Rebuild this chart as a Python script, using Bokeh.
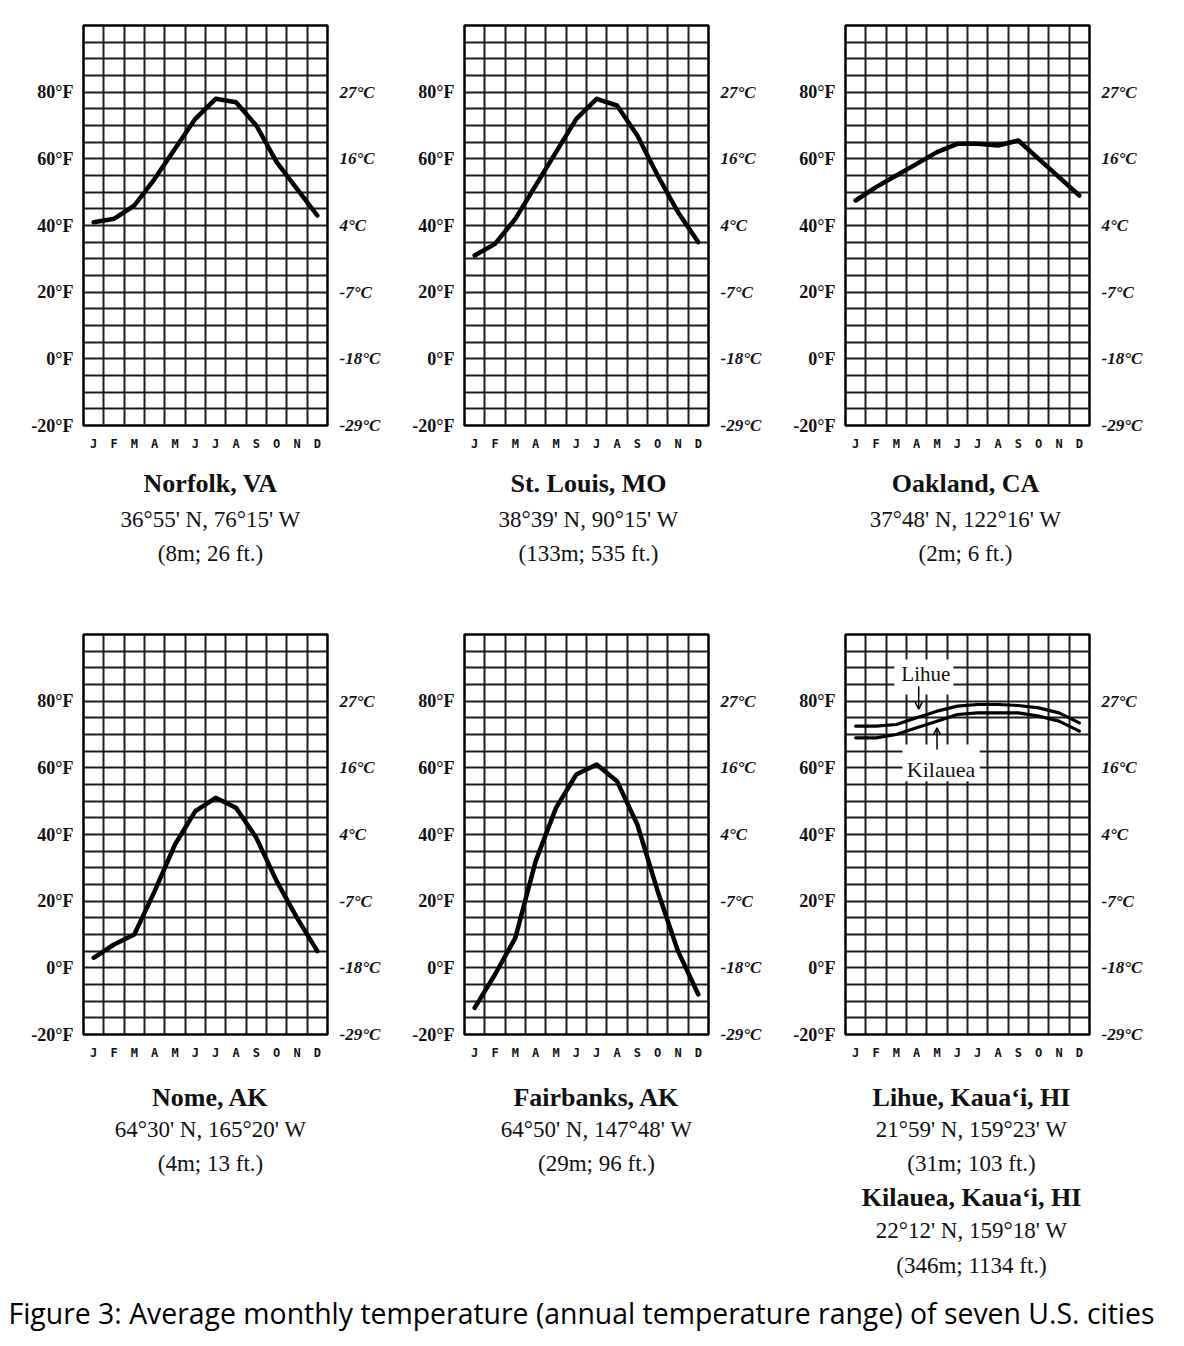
from bokeh.plotting import figure
from bokeh.models import LinearAxis, FixedTicker, Label, Arrow, OpenHead, Range1d
from bokeh.layouts import column, row
from bokeh.embed import file_html
from bokeh.resources import INLINE

# ---------------- data ----------------
months = ["J", "F", "M", "A", "M", "J", "J", "A", "S", "O", "N", "D"]
month_x = list(range(1, 13))
f_ticks = [-20, 0, 20, 40, 60, 80]
f_labels = ["-20°F", "0°F", "20°F", "40°F", "60°F", "80°F"]
c_labels = ["-29°C", "-18°C", "-7°C", "4°C", "16°C", "27°C"]

norfolk = [41, 42, 46, 54, 63, 72, 78, 77, 70, 59, 51, 43]
st_louis = [31, 34.5, 42, 52, 62, 72, 78, 76, 67, 55, 44, 35]
oakland = [47.5, 51.5, 55, 58.5, 62, 64.5, 64.5, 64, 65.5, 60, 54.5, 49]
nome = [3, 7, 10, 23, 37, 47, 51, 48, 39, 26, 15, 5]
fairbanks = [-12, -2, 9, 32, 48, 58, 61, 56, 43, 23, 5, -8]
lihue = [72.5, 72.5, 73, 75, 77, 78.5, 79, 79, 78.7, 78, 76.5, 73.5]
kilauea = [69, 69, 70, 72, 74, 76, 76.5, 76.5, 76.5, 75.5, 74, 71]

cap_norfolk = ["Norfolk, VA", "36°55' N, 76°15' W", "(8m; 26 ft.)"]
cap_stlouis = ["St. Louis, MO", "38°39' N, 90°15' W", "(133m; 535 ft.)"]
cap_oakland = ["Oakland, CA", "37°48' N, 122°16' W", "(2m; 6 ft.)"]
cap_nome = ["Nome, AK", "64°30' N, 165°20' W", "(4m; 13 ft.)"]
cap_fairbanks = ["Fairbanks, AK", "64°50' N, 147°48' W", "(29m; 96 ft.)"]
cap_lihue = ["Lihue, Kaua‘i, HI", "21°59' N, 159°23' W", "(31m; 103 ft.)",
             "Kilauea, Kaua‘i, HI", "22°12' N, 159°18' W", "(346m; 1134 ft.)"]
fig_caption = "Figure 3: Average monthly temperature (annual temperature range) of seven U.S. cities"

SERIF = "Liberation Serif"
FRAME_W = 244
FRAME_H = 400
RIGHT_B = 62
AXIS_B = 30


def make_panel(left, top):
    p = figure(width=left + FRAME_W + RIGHT_B, height=top + FRAME_H + AXIS_B,
               x_range=Range1d(0.5, 12.5), y_range=Range1d(-20, 100),
               output_backend="svg", toolbar_location=None,
               min_border_left=left, min_border_right=RIGHT_B,
               min_border_top=top, min_border_bottom=AXIS_B,
               background_fill_color="white", border_fill_color="white")
    p.outline_line_color = "black"
    p.outline_line_width = 2.5
    p.outline_line_alpha = 1
    p.xgrid.ticker = FixedTicker(ticks=[i + 0.5 for i in range(len(months) + 1)])
    p.ygrid.ticker = FixedTicker(ticks=list(range(-20, 101, 5)))
    for g in (p.xgrid, p.ygrid):
        g.grid_line_color = "#1e1e1e"
        g.grid_line_width = 2
        g.grid_line_alpha = 1

    p.xaxis.ticker = FixedTicker(ticks=month_x)
    p.xaxis.major_label_overrides = dict(zip(month_x, months))
    p.xaxis.major_label_text_font = "DejaVu Sans Mono"
    p.xaxis.major_label_text_font_style = "bold"
    p.xaxis.major_label_text_font_size = "12px"
    p.xaxis.major_label_standoff = 5

    p.yaxis.ticker = FixedTicker(ticks=f_ticks)
    p.yaxis.major_label_overrides = dict(zip(f_ticks, f_labels))
    p.yaxis.major_label_text_font = SERIF
    p.yaxis.major_label_text_font_style = "bold"
    p.yaxis.major_label_text_font_size = "18px"
    p.yaxis.major_label_standoff = 4

    ra = LinearAxis(ticker=FixedTicker(ticks=f_ticks),
                    major_label_overrides=dict(zip(f_ticks, c_labels)))
    ra.major_label_text_font = SERIF
    ra.major_label_text_font_style = "bold italic"
    ra.major_label_text_font_size = "17px"
    ra.major_label_standoff = 6
    p.add_layout(ra, "right")

    for ax in (p.xaxis[0], p.yaxis[0], ra):
        ax.axis_line_color = None
        ax.major_tick_line_color = None
        ax.minor_tick_line_color = None
        ax.major_label_text_color = "#111111"
    return p


def make_caption(width, height, cx, lines, offsets):
    c = figure(width=width, height=height, x_range=Range1d(0, 1), y_range=Range1d(0, 1),
               output_backend="svg", toolbar_location=None,
               x_axis_location=None, y_axis_location=None,
               min_border=0, outline_line_color=None,
               background_fill_color="white", border_fill_color="white")
    c.xgrid.visible = False
    c.ygrid.visible = False
    for i, txt in enumerate(lines):
        bold = (i % 3 == 0)
        c.add_layout(Label(x=cx, y=height - offsets[i], x_units="screen", y_units="screen",
                           text=txt, text_align="center", text_baseline="middle",
                           text_font=SERIF, text_font_size="26px" if bold else "23px",
                           text_font_style="bold" if bold else "normal", text_color="#111111"))
    return c


def add_curve(p, ys, lw=4.5):
    p.line(month_x, ys, line_width=lw, color="black", line_join="round", line_cap="round")


p1 = make_panel(83, 25)
add_curve(p1, norfolk)
p2 = make_panel(75, 25)
add_curve(p2, st_louis)
p3 = make_panel(75, 25)
add_curve(p3, oakland)

p4 = make_panel(83, 16)
add_curve(p4, nome)
p5 = make_panel(75, 16)
add_curve(p5, fairbanks)
p6 = make_panel(75, 16)

# white label boxes (annotation backgrounds) in the Hawaii panel
lihue_box = dict(left=2.9, right=5.8, bottom=82, top=92.5)
kilauea_box = dict(left=3.3, right=7.1, bottom=56, top=67)
p6.quad(left=[lihue_box["left"], kilauea_box["left"]], right=[lihue_box["right"], kilauea_box["right"]],
        bottom=[lihue_box["bottom"], kilauea_box["bottom"]], top=[lihue_box["top"], kilauea_box["top"]],
        fill_color="white", line_color=None)
add_curve(p6, lihue, 3.2)
add_curve(p6, kilauea, 3.2)
p6.add_layout(Label(x=4.45, y=88.2, text="Lihue", text_align="center", text_baseline="middle",
                    text_font=SERIF, text_font_size="21px", text_color="#111111"))
p6.add_layout(Label(x=5.2, y=59.5, text="Kilauea", text_align="center", text_baseline="middle",
                    text_font=SERIF, text_font_size="22px", text_color="#111111"))
p6.add_layout(Arrow(end=OpenHead(size=7, line_width=1.5), x_start=4.1, y_start=84.5, x_end=4.1, y_end=77.6,
                    line_width=1.5, line_color="black"))
p6.add_layout(Arrow(end=OpenHead(size=7, line_width=1.5), x_start=5.0, y_start=65.5, x_end=5.0, y_end=72.0,
                    line_width=1.5, line_color="black"))

top_off = [28, 64, 98]
bot_off = [33, 65, 99, 133, 166, 201]
c1 = make_caption(p1.width, 163, 210, cap_norfolk, top_off)
c2 = make_caption(p2.width, 163, 199, cap_stlouis, top_off)
c3 = make_caption(p3.width, 163, 195, cap_oakland, top_off)
c4 = make_caption(p4.width, 226, 210, cap_nome, bot_off)
c5 = make_caption(p5.width, 226, 207, cap_fairbanks, bot_off)
c6 = make_caption(p6.width, 226, 201, cap_lihue, bot_off)

cap_fig = figure(width=1168, height=56, x_range=Range1d(0, 1), y_range=Range1d(0, 1),
                 output_backend="svg", toolbar_location=None,
                 x_axis_location=None, y_axis_location=None,
                 min_border=0, outline_line_color=None)
cap_fig.xgrid.visible = False
cap_fig.ygrid.visible = False
cap_fig.add_layout(Label(x=8, y=34, x_units="screen", y_units="screen", text=fig_caption,
                         text_align="left", text_baseline="middle", text_font="Open Sans",
                         text_font_size="28.4px", text_color="black"))

layout = column(row(p1, p2, p3), row(c1, c2, c3), row(p4, p5, p6), row(c4, c5, c6), cap_fig)
open("out.html", "w").write(file_html(layout, INLINE))
